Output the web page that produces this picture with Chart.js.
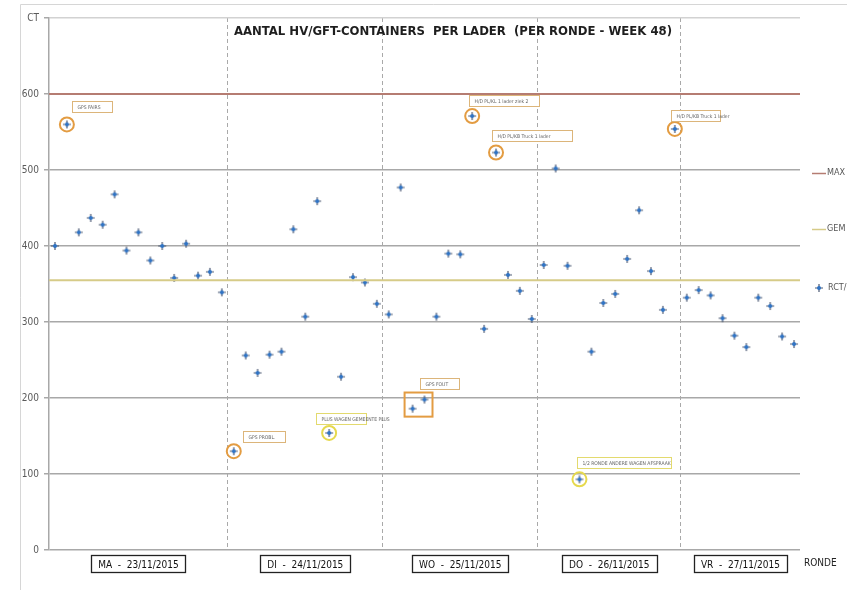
<!DOCTYPE html>
<html>
<head>
<meta charset="utf-8">
<script src="https://cdn.jsdelivr.net/npm/chart.js@4.4.0/dist/chart.umd.min.js"></script>
<style>
  html, body { margin: 0; padding: 0; background: #fff; overflow: hidden; }
  #wrap { width: 847px; height: 590px; }
</style>
</head>
<body>
<div id="wrap"><canvas id="chart"></canvas></div>
<script>
// week 48 - aantal containers per lader, per ronde
const days = ['MA  -  23/11/2015', 'DI  -  24/11/2015', 'WO  -  25/11/2015', 'DO  -  26/11/2015', 'VR  -  27/11/2015'];

const ctMa = [400, 560, 418, 437, 428, 468, 394, 418, 381, 400, 358, 403, 361, 366, 339];
const ctDi = [130, 256, 233, 257, 261, 422, 307, 459, 154, 228, 359, 352, 324];
const ctWo = [310, 477, 186, 198, 307, 390, 389, 571, 291, 523, 362, 341, 304];
const ctDo = [375, 502, 374, 93, 261, 325, 337, 383, 447, 367, 316, 554];
const ctVr = [332, 342, 335, 305, 282, 267, 332, 321, 281, 271];

const maxCt = 600;
const gemCt = 355;

const yTicks = [0, 100, 200, 300, 400, 500, 600, 700];

// opmerkingen (index = ronde in de week)
const notes = [
  { from: 1,  to: 1,  text: 'GPS FAIRS', kind: 'orange' },
  { from: 15, to: 15, text: 'GPS PROBL.', kind: 'orange' },
  { from: 23, to: 23, text: 'PLUS WAGEN GEMEENTE PLUS', kind: 'yellow' },
  { from: 30, to: 31, text: 'GPS FOUT', kind: 'orange' },
  { from: 35, to: 35, text: 'H/D PL/KL 1 lader ziek 2', kind: 'orange' },
  { from: 37, to: 37, text: 'H/D PL/KB Truck 1 lader', kind: 'orange' },
  { from: 44, to: 44, text: '1/2 RONDE ANDERE WAGEN AFSPRAAK', kind: 'yellow' },
  { from: 52, to: 52, text: 'H/D PL/KB Truck 1 lader', kind: 'orange' }
];

const perDay = [ctMa, ctDi, ctWo, ctDo, ctVr];
const ct = perDay.flat();
const rounds = perDay.flatMap((d, i) => d.map((v, r) => days[i].slice(0, 2) + ' ' + (r + 1)));
const nRounds = ct.length;
const dayStarts = [0];
perDay.forEach(d => dayStarts.push(dayStarts[dayStarts.length - 1] + d.length));
const dayCenters = days.map((d, i) => (dayStarts[i] + dayStarts[i + 1]) / 2);

const noteColors = { orange: '#e39c42', yellow: '#e6d94e' };
const noteBoxColors = { orange: '#dcb57a', yellow: '#e3da6e' };
// label offset (dx, dy) and width per note
const noteLayout = [[5, -23, 40], [9, -20, 42], [-13, -20, 50], [-5, -22, 39], [-3, -21, 70], [-4, -23, 80], [-2, -22, 94], [-4, -19, 49]];

const narrow = "'Liberation Sans Narrow', 'DejaVu Sans Condensed', sans-serif";

function makeMarker() {
  const c = document.createElement('canvas');
  c.width = 10; c.height = 10;
  const g = c.getContext('2d');
  g.strokeStyle = '#4a5873';
  g.lineWidth = 1.2;
  g.beginPath();
  g.moveTo(5, 1); g.lineTo(5, 9);
  g.moveTo(1, 5); g.lineTo(9, 5);
  g.stroke();
  g.fillStyle = '#2e73c6';
  g.beginPath();
  g.arc(5, 5, 2, 0, Math.PI * 2);
  g.fill();
  return c;
}
const marker = makeMarker();

const circleData = ct.map((v, i) => notes.some(n => n.from === i && n.to === i) ? v : null);
const circleColors = ct.map((v, i) => {
  const n = notes.find(n => n.from === i);
  return n ? noteColors[n.kind] : 'transparent';
});

const extras = {
  id: 'extras',
  beforeDraw(chart) {
    const c = chart.ctx;
    c.save();
    c.fillStyle = '#fff';
    c.fillRect(0, 0, chart.width, chart.height);
    c.strokeStyle = '#d6d6d6';
    c.lineWidth = 1;
    c.beginPath();
    c.moveTo(20.5, chart.height);
    c.lineTo(20.5, 4.5);
    c.lineTo(chart.width, 4.5);
    c.stroke();
    c.restore();
  },
  afterDraw(chart) {
    const c = chart.ctx;
    const area = chart.chartArea;
    c.save();

    // titel
    c.fillStyle = '#1e1e1e';
    c.font = 'bold 13px ' + narrow;
    c.textAlign = 'center';
    c.textBaseline = 'middle';
    c.fillText('AANTAL HV/GFT-CONTAINERS  PER LADER  (PER RONDE - WEEK 48)', 453, 32);

    // dag-labels in kaders
    const sx = chart.scales.xDay;
    c.font = '10px ' + narrow;
    c.strokeStyle = '#222';
    c.lineWidth = 1.3;
    days.forEach((d, i) => {
      const x = sx.getPixelForValue(dayCenters[i]);
      const w = c.measureText(d).width + 14;
      c.strokeRect(Math.round(x - w / 2) + 0.5, area.bottom + 5.5, Math.round(w), 17);
    });
    c.fillStyle = '#222';
    c.textAlign = 'left';
    c.font = '10px ' + narrow;
    c.fillText('RONDE', 804, area.bottom + 13);

    // legenda
    c.font = '9px ' + narrow;
    c.fillStyle = '#555';
    c.textBaseline = 'middle';
    const ds = chart.data.datasets;
    [[ds[0], 173], [ds[1], 229]].forEach(([d, y]) => {
      c.strokeStyle = d.borderColor;
      c.lineWidth = 1.5;
      c.beginPath();
      c.moveTo(812, y + 0.5);
      c.lineTo(826, y + 0.5);
      c.stroke();
      c.fillText(d.label, 827, y);
    });
    c.drawImage(marker, 814, 283);
    c.fillText(ds[2].label, 828, 288);

    // opmerkingen
    const pts = chart.getDatasetMeta(2).data;
    notes.forEach((n, k) => {
      const [dx, dy, w] = noteLayout[k];
      const a = pts[n.from], b = pts[n.to];
      if (n.from !== n.to) {
        c.strokeStyle = noteColors[n.kind];
        c.lineWidth = 2;
        const x0 = Math.min(a.x, b.x) - 8, x1 = Math.max(a.x, b.x) + 8;
        const y0 = Math.min(a.y, b.y) - 7, y1 = Math.max(a.y, b.y) + 8;
        c.strokeRect(x0, y0, x1 - x0, y1 - y0);
      }
      const bx = Math.round(b.x + dx) + 0.5, by = Math.round(b.y + dy) + 0.5;
      c.fillStyle = '#fff';
      c.fillRect(bx, by, w, 11);
      c.strokeStyle = noteBoxColors[n.kind];
      c.lineWidth = 1;
      c.strokeRect(bx, by, w, 11);
      c.fillStyle = '#666';
      c.font = '5px ' + narrow;
      c.textAlign = 'left';
      c.fillText(n.text, bx + 5, by + 6);
    });
    c.restore();
  }
};

new Chart(document.getElementById('chart'), {
  type: 'line',
  data: {
    labels: rounds,
    datasets: [
      {
        label: 'MAX',
        data: [{ x: 0, y: maxCt }, { x: nRounds, y: maxCt }],
        xAxisID: 'xLin',
        borderColor: '#b57c72',
        borderWidth: 2,
        pointRadius: 0
      },
      {
        label: 'GEM',
        data: [{ x: 0, y: gemCt }, { x: nRounds, y: gemCt }],
        xAxisID: 'xLin',
        borderColor: '#d6cb88',
        borderWidth: 2,
        pointRadius: 0
      },
      {
        label: 'RCT/LADER',
        data: ct,
        xAxisID: 'x',
        showLine: false,
        pointStyle: marker,
        pointRadius: 5,
        pointHoverRadius: 5
      },
      {
        label: 'opmerking',
        data: circleData,
        xAxisID: 'x',
        showLine: false,
        pointStyle: 'circle',
        pointRadius: 7,
        pointBorderWidth: 2,
        pointBorderColor: circleColors,
        pointBackgroundColor: 'transparent'
      }
    ]
  },
  options: {
    responsive: true,
    maintainAspectRatio: false,
    animation: false,
    devicePixelRatio: 1,
    layout: { padding: { left: 0, right: 47, top: 18, bottom: 0 } },
    plugins: {
      legend: { display: false },
      tooltip: { enabled: false },
      title: { display: false }
    },
    scales: {
      x: { type: 'category', display: false, offset: true },
      xLin: {
        type: 'linear',
        position: 'bottom',
        min: 0,
        max: nRounds,
        afterBuildTicks: s => { s.ticks = dayStarts.slice(1, -1).map(v => ({ value: v })); },
        afterFit: s => { s.height = 0; },
        ticks: { display: false },
        grid: { color: '#a9a9a9', lineWidth: 1, drawTicks: false },
        border: { display: false, dash: [4, 3] }
      },
      xDay: {
        type: 'linear',
        position: 'bottom',
        min: 0,
        max: nRounds,
        afterBuildTicks: s => { s.ticks = dayCenters.map(v => ({ value: v })); },
        afterFit: s => { s.height = 40; },
        ticks: {
          autoSkip: false,
          maxRotation: 0,
          padding: 9,
          color: '#111',
          font: { family: narrow, size: 10 },
          callback: (v, i) => days[i]
        },
        grid: { display: false, drawTicks: false },
        border: { display: false }
      },
      y: {
        min: 0,
        max: 700,
        afterBuildTicks: s => { s.ticks = yTicks.map(v => ({ value: v })); },
        afterFit: s => { s.width = 49; },
        ticks: {
          color: '#5a5a5a',
          padding: 5,
          font: { family: narrow, size: 10 },
          callback: v => v === 700 ? 'CT' : v
        },
        grid: {
          color: c => c.tick && c.tick.value === 700 ? '#d2d2d2' : '#a8a8a8',
          lineWidth: 1.5,
          tickLength: 5,
          tickColor: '#a8a8a8'
        },
        border: { color: '#a8a8a8', width: 1.5 }
      }
    }
  },
  plugins: [extras]
});
</script>
</body>
</html>
